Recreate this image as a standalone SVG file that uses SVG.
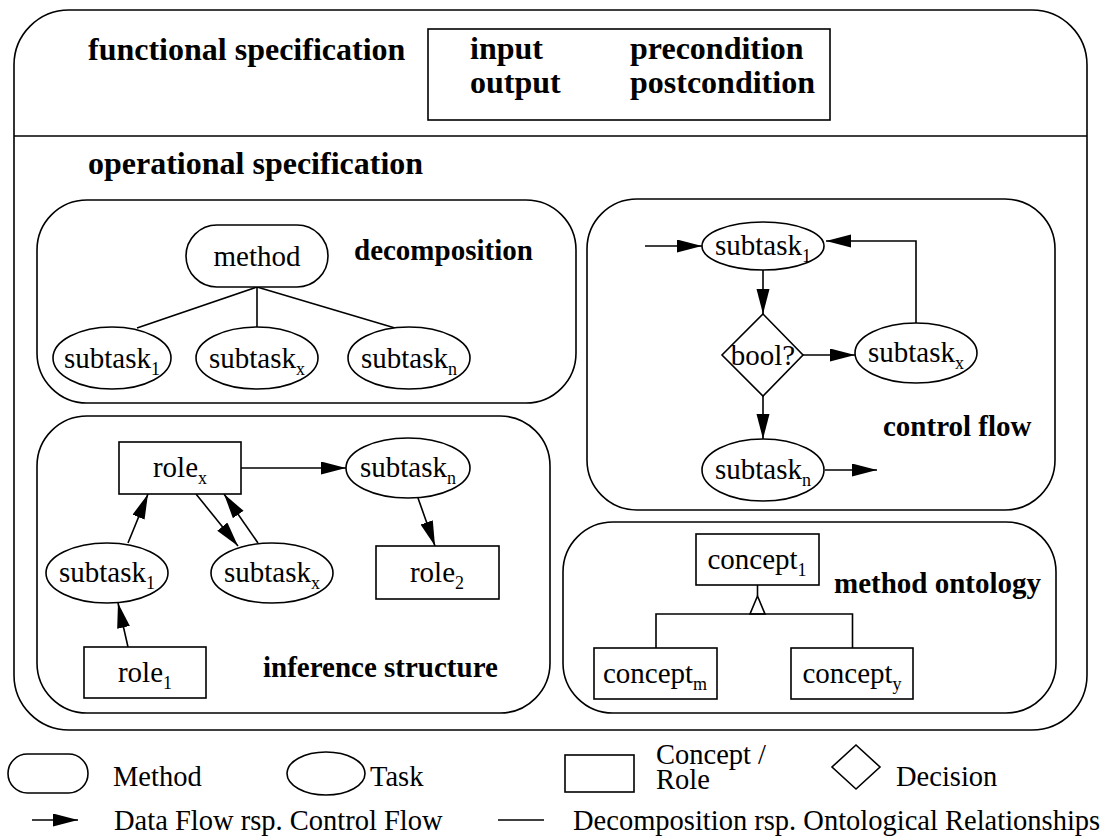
<svg xmlns="http://www.w3.org/2000/svg" width="1104" height="837" viewBox="0 0 1104 837">
  <style>
    .frame { fill: none; stroke: #000; stroke-width: 1.6; }
    .node { fill: #fff; stroke: #000; stroke-width: 1.6; }
    .edge { fill: none; stroke: #000; stroke-width: 1.6; }
    .flow { fill: none; stroke: #000; stroke-width: 1.6; marker-end: url(#arrow); }
    text { font-family: "Liberation Serif", "Times New Roman", serif; fill: #000; }
    .big { font-size: 32px; font-weight: bold; }
    .title { font-size: 29px; font-weight: bold; }
    .lbl { font-size: 29px; text-anchor: middle; }
    .leg { font-size: 28.5px; }
    .sub { font-size: 18px; }
  </style>
  <defs>
    <marker id="arrow" markerUnits="userSpaceOnUse" markerWidth="26" markerHeight="14" refX="25" refY="6.5" orient="auto">
      <path d="M0,0 L25,6.5 L0,13 z" fill="#000"/>
    </marker>
  </defs>

  <rect width="1104" height="837" fill="#fff"/>

  <!-- outer task frame -->
  <g id="task-frame">
    <rect class="frame" x="14" y="10" width="1073" height="720" rx="55" ry="55"/>
    <line class="frame" x1="14" y1="136" x2="1087" y2="136"/>
    <text class="big" x="88" y="60">functional specification</text>
    <rect class="frame" x="428" y="29" width="402" height="91"/>
    <text class="big" x="470" y="59">input</text>
    <text class="big" x="470" y="93">output</text>
    <text class="big" x="630" y="59">precondition</text>
    <text class="big" x="630" y="93">postcondition</text>
    <text class="big" x="88" y="174">operational specification</text>
  </g>

  <!-- section panels -->
  <g id="decomposition-panel">
    <rect class="frame" x="37" y="200" width="539" height="203" rx="50" ry="50"/>
    <text class="title" x="354" y="260">decomposition</text>
  </g>
  <g id="control-flow-panel">
    <rect class="frame" x="587" y="199" width="468" height="311" rx="50" ry="50"/>
    <text class="title" x="883" y="436">control flow</text>
  </g>
  <g id="inference-panel">
    <rect class="frame" x="37" y="416" width="513" height="297" rx="50" ry="50"/>
    <text class="title" x="263" y="677">inference structure</text>
  </g>
  <g id="ontology-panel">
    <rect class="frame" x="563" y="522" width="493" height="191" rx="50" ry="50"/>
    <text class="title" x="834" y="593">method ontology</text>
  </g>

  <!-- connectors -->
  <g id="connectors">
    <!-- decomposition tree -->
    <line class="edge" x1="257" y1="287" x2="137" y2="328"/>
    <line class="edge" x1="257" y1="287" x2="257" y2="327"/>
    <line class="edge" x1="257" y1="287" x2="395" y2="328"/>
    <!-- control flow -->
    <line class="flow" x1="645" y1="246" x2="702" y2="246"/>
    <line class="flow" x1="763" y1="270" x2="763" y2="314"/>
    <line class="flow" x1="803" y1="355" x2="855" y2="355"/>
    <polyline class="flow" points="916,323 916,241 826,241"/>
    <line class="flow" x1="763" y1="396" x2="763" y2="439"/>
    <line class="flow" x1="825" y1="470" x2="877" y2="470"/>
    <!-- inference structure -->
    <line class="flow" x1="241" y1="468" x2="346" y2="468"/>
    <line class="flow" x1="418" y1="498" x2="435" y2="546"/>
    <line class="flow" x1="128" y1="543" x2="148" y2="494"/>
    <line class="flow" x1="196" y1="494" x2="238" y2="546"/>
    <line class="flow" x1="258" y1="543" x2="224" y2="494"/>
    <line class="flow" x1="128" y1="647" x2="118" y2="603"/>
    <!-- ontology hierarchy -->
    <line class="edge" x1="757.5" y1="585" x2="757.5" y2="596"/>
    <polygon class="node" points="757.5,596 765,614 750,614"/>
    <polyline class="edge" points="656,648 656,614 852.5,614 852.5,648"/>
  </g>

  <!-- decomposition nodes -->
  <g id="dec-method">
    <rect class="node" x="186" y="225" width="142" height="62" rx="31" ry="31"/>
    <text class="lbl" x="257" y="266">method</text>
  </g>
  <g id="dec-subtask1">
    <ellipse class="node" cx="112" cy="358" rx="59" ry="31"/>
    <text class="lbl" x="112" y="368">subtask<tspan class="sub" dy="7">1</tspan></text>
  </g>
  <g id="dec-subtaskx">
    <ellipse class="node" cx="257" cy="358" rx="61" ry="31"/>
    <text class="lbl" x="257" y="368">subtask<tspan class="sub" dy="7">x</tspan></text>
  </g>
  <g id="dec-subtaskn">
    <ellipse class="node" cx="409" cy="358" rx="61" ry="31"/>
    <text class="lbl" x="409" y="368">subtask<tspan class="sub" dy="7">n</tspan></text>
  </g>

  <!-- control flow nodes -->
  <g id="cf-subtask1">
    <ellipse class="node" cx="763" cy="246" rx="61" ry="24"/>
    <text class="lbl" x="763" y="255">subtask<tspan class="sub" dy="7">1</tspan></text>
  </g>
  <g id="cf-decision">
    <polygon class="node" points="763,314 803,355 763,396 722,355"/>
    <text class="lbl" x="763" y="365">bool?</text>
  </g>
  <g id="cf-subtaskx">
    <ellipse class="node" cx="916" cy="353" rx="61" ry="30"/>
    <text class="lbl" x="916" y="362">subtask<tspan class="sub" dy="7">x</tspan></text>
  </g>
  <g id="cf-subtaskn">
    <ellipse class="node" cx="763" cy="470" rx="61" ry="31"/>
    <text class="lbl" x="763" y="479">subtask<tspan class="sub" dy="7">n</tspan></text>
  </g>

  <!-- inference structure nodes -->
  <g id="inf-rolex">
    <rect class="node" x="119" y="442" width="122" height="52"/>
    <text class="lbl" x="180" y="477">role<tspan class="sub" dy="7">x</tspan></text>
  </g>
  <g id="inf-subtaskn">
    <ellipse class="node" cx="408" cy="468" rx="62" ry="30"/>
    <text class="lbl" x="408" y="477">subtask<tspan class="sub" dy="7">n</tspan></text>
  </g>
  <g id="inf-role2">
    <rect class="node" x="376" y="546" width="123" height="53"/>
    <text class="lbl" x="437" y="582">role<tspan class="sub" dy="7">2</tspan></text>
  </g>
  <g id="inf-subtask1">
    <ellipse class="node" cx="107" cy="573" rx="61" ry="30"/>
    <text class="lbl" x="107" y="582">subtask<tspan class="sub" dy="7">1</tspan></text>
  </g>
  <g id="inf-subtaskx">
    <ellipse class="node" cx="272" cy="573" rx="61" ry="30"/>
    <text class="lbl" x="272" y="582">subtask<tspan class="sub" dy="7">x</tspan></text>
  </g>
  <g id="inf-role1">
    <rect class="node" x="84" y="647" width="122" height="51"/>
    <text class="lbl" x="145" y="682">role<tspan class="sub" dy="7">1</tspan></text>
  </g>

  <!-- ontology nodes -->
  <g id="ont-concept1">
    <rect class="node" x="696" y="534" width="123" height="51"/>
    <text class="lbl" x="757" y="569">concept<tspan class="sub" dy="7">1</tspan></text>
  </g>
  <g id="ont-conceptm">
    <rect class="node" x="594" y="648" width="123" height="51"/>
    <text class="lbl" x="655" y="683">concept<tspan class="sub" dy="7">m</tspan></text>
  </g>
  <g id="ont-concepty">
    <rect class="node" x="791" y="648" width="122" height="51"/>
    <text class="lbl" x="852" y="683">concept<tspan class="sub" dy="7">y</tspan></text>
  </g>

  <!-- legend -->
  <g id="legend">
    <rect class="node" x="8" y="754" width="80" height="39" rx="19.5" ry="19.5"/>
    <text class="leg" x="113" y="786">Method</text>
    <ellipse class="node" cx="326" cy="773.5" rx="39" ry="21.5"/>
    <text class="leg" x="370" y="786">Task</text>
    <rect class="node" x="565" y="755" width="69" height="37"/>
    <text class="leg" x="656" y="764">Concept /<tspan x="656" dy="25">Role</tspan></text>
    <polygon class="node" points="856,745 880,767 856,789 832,767"/>
    <text class="leg" x="896" y="786">Decision</text>
    <line class="flow" x1="32" y1="820" x2="78" y2="820"/>
    <text class="leg" x="114" y="830">Data Flow rsp. Control Flow</text>
    <line class="edge" x1="498" y1="820" x2="544" y2="820"/>
    <text class="leg" x="573" y="830">Decomposition rsp. Ontological Relationships</text>
  </g>
</svg>
